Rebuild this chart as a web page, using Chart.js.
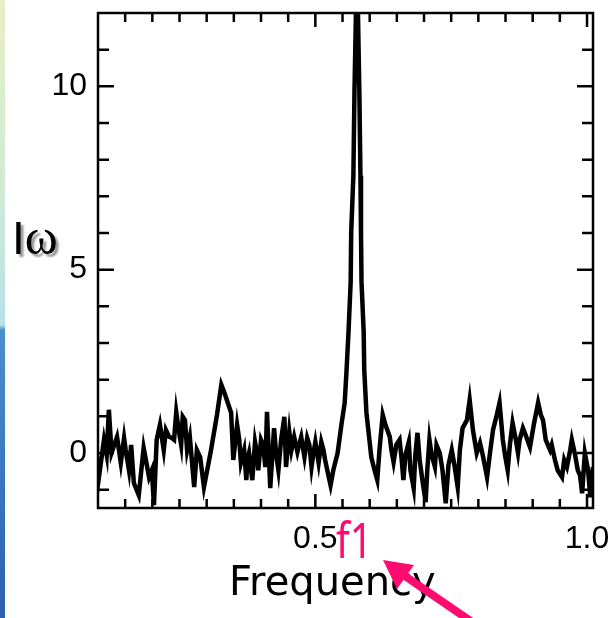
<!DOCTYPE html>
<html>
<head>
<meta charset="utf-8">
<script src="https://cdn.jsdelivr.net/npm/chart.js@4/dist/chart.umd.min.js"></script>
<style>
  html, body { margin: 0; padding: 0; background: #fff; }
  #wrap { position: relative; width: 612px; height: 618px; overflow: hidden; }
  #strip { position: absolute; left: 0; top: 0; width: 5px; height: 618px;
    background: linear-gradient(to bottom, #e6f0c4 0px, #cfe9d6 200px, #b5e2e6 325px, #4a8fcb 330px, #3a78bf 470px, #2f5fab 618px); }
  #c { position: absolute; left: 0; top: 0; }
  .lbl { position: absolute; white-space: nowrap; line-height: 1; }
  #ylab { left: 12px; top: 212px; text-shadow: 3px 3px 2px #9a9a9a; color: #000; }
  #ylab .i { font-family: "Liberation Sans", Arial, sans-serif; font-size: 46px; }
  #ylab .w { font-family: "Liberation Serif", "Times New Roman", serif; font-size: 50px; }
  #xlab { left: 229px; top: 561px; font-family: "DejaVu Sans", sans-serif; font-size: 40px; color: #000; }
  #f1 { left: 336px; top: 514px; font-family: "Noto Sans", sans-serif; font-size: 50px; color: #ff0a6e;
    transform: scaleX(0.8); transform-origin: left top; }
  #arrow { position: absolute; left: 0; top: 0; }
</style>
</head>
<body>
<div id="wrap">
  <div id="strip"></div>
  <canvas id="c" width="612" height="618"></canvas>
  <div class="lbl" id="ylab"><span class="i">I</span><span class="w">ω</span></div>
  <div class="lbl" id="xlab">Frequency</div>
  <div class="lbl" id="f1">f1</div>
  <svg id="arrow" width="612" height="618">
    <line x1="472" y1="622" x2="402" y2="574" stroke="#ff0a6e" stroke-width="8"/>
    <polygon points="383,560 414,565 397,589" fill="#ff0a6e"/>
  </svg>
</div>
<script>
// Frequency (x) and intensity Iω (y)
const freq = [
  0.098, 0.101, 0.111, 0.116, 0.120, 0.125, 0.135, 0.142, 0.148, 0.151,
  0.157, 0.161, 0.166, 0.175, 0.184, 0.194, 0.199, 0.203, 0.208, 0.214,
  0.221, 0.225, 0.231, 0.236, 0.240, 0.244, 0.249, 0.253, 0.256, 0.260,
  0.264, 0.269, 0.277, 0.282, 0.288, 0.295, 0.308, 0.319, 0.327, 0.332,
  0.345, 0.349, 0.352, 0.356, 0.360, 0.363, 0.369, 0.373, 0.375, 0.378,
  0.384, 0.389, 0.393, 0.395, 0.400, 0.404, 0.408, 0.411, 0.417, 0.424,
  0.428, 0.432, 0.437, 0.443, 0.446, 0.452, 0.456, 0.461, 0.467, 0.470,
  0.474, 0.480, 0.485, 0.489, 0.493, 0.496, 0.500, 0.506, 0.511, 0.515,
  0.518, 0.522, 0.528, 0.533, 0.541, 0.548, 0.554, 0.557, 0.561, 0.565,
  0.566, 0.570, 0.572, 0.5766, 0.581, 0.583, 0.584, 0.585, 0.589, 0.590,
  0.594, 0.603, 0.609, 0.614, 0.618, 0.624, 0.629, 0.637, 0.640, 0.644,
  0.649, 0.655, 0.659, 0.662, 0.666, 0.672, 0.675, 0.681, 0.684, 0.688,
  0.692, 0.697, 0.703, 0.706, 0.710, 0.714, 0.720, 0.723, 0.729, 0.734,
  0.740, 0.745, 0.751, 0.756, 0.762, 0.766, 0.771, 0.779, 0.784, 0.790,
  0.797, 0.803, 0.808, 0.816, 0.821, 0.827, 0.834, 0.839, 0.845, 0.849,
  0.854, 0.858, 0.863, 0.869, 0.873, 0.876, 0.882, 0.887, 0.895, 0.902,
  0.910, 0.915, 0.919, 0.924, 0.932, 0.935, 0.941, 0.946, 0.954, 0.958,
  0.963, 0.969, 0.972, 0.978, 0.983, 0.987, 0.991, 0.996, 1.002, 1.006,
  1.011
];
const intensity = [
  -0.11, -0.74, 0.36, -0.05, 1.18, 0.00, 0.44, -0.27, 0.41, 0.08,
  -0.47, 0.22, -0.82, -1.15, 0.14, -0.66, -0.47, -1.42, 0.36, 0.77,
  0.08, 0.63, 0.44, 0.41, 0.36, 1.12, 0.58, 0.22, 0.99, 0.90,
  0.08, 0.44, -0.93, 0.08, -0.11, -0.93, 0.08, 1.04, 1.86, 1.67,
  1.10, -0.19, 0.22, 0.77, 0.36, -0.27, 0.08, -0.74, -0.19, 0.00,
  -0.74, 0.30, -0.05, -0.47, 0.36, 0.22, -0.38, 1.12, -0.96, 0.68,
  -0.05, -0.47, 0.36, 0.99, -0.38, 0.58, 0.08, 0.44, 0.03, 0.22,
  0.44, -0.11, 0.41, 0.22, -0.38, -0.05, 0.30, -0.27, 0.30, 0.08,
  -0.19, -0.47, -0.88, -0.47, 0.00, 0.77, 1.37, 2.14, 3.29, 4.66,
  6.03, 7.56, 9.86, 13.5, 9.86, 7.56, 6.03, 4.66, 3.29, 2.27,
  1.10, -0.11, -0.47, -0.74, 0.08, 1.04, 0.77, 0.44, 0.08, -0.25,
  0.22, 0.36, -0.19, -0.74, -0.05, 0.30, -0.47, -0.96, -0.05, 0.55,
  -0.19, -0.74, -1.34, -0.47, 0.36, -0.05, -0.38, 0.22, 0.00, -0.47,
  -1.37, -0.33, 0.08, -0.33, -0.93, 0.08, 0.68, 0.90, 1.45, 0.63,
  0.00, 0.27, -0.05, -0.66, -0.05, 0.63, 1.04, 1.37, 0.36, -0.05,
  -0.47, 0.22, 0.82, 0.36, 0.00, 0.36, 0.68, 0.49, 0.16, 0.77,
  1.37, 1.04, 0.90, 0.36, 0.08, 0.22, -0.19, -0.47, -0.66, -0.19,
  -0.38, 0.08, 0.36, -0.05, -0.47, -0.60, -1.10, 0.00, -0.47, -1.21,
  -0.38
];
const xTickLabels = { "0.5": "0.5", "1.0": "1.0" };
const yTickLabels = [0, 5, 10];

const X_MIN = 0.1, X_MAX = 1.011, Y_MIN = -1.5, Y_MAX = 12;

const points = freq.map((f, i) => ({ x: f, y: intensity[i] }));

const frameTicks = {
  id: 'frameTicks',
  afterDatasetsDraw(chart) {
    const { ctx, chartArea: a, scales } = chart;
    ctx.save();
    ctx.strokeStyle = '#000';
    ctx.lineWidth = 2.5;
    ctx.strokeRect(a.left, a.top, a.right - a.left, a.bottom - a.top);
    scales.x.ticks.forEach(t => {
      const v = t.value;
      const px = scales.x.getPixelForValue(v);
      if (px < a.left + 2 || px > a.right - 2) return;
      const major = Math.abs(v - 0.5) < 1e-6 || Math.abs(v - 1) < 1e-6;
      const L = major ? 14 : 9;
      ctx.beginPath();
      ctx.moveTo(px, a.bottom); ctx.lineTo(px, a.bottom - L);
      ctx.moveTo(px, a.top); ctx.lineTo(px, a.top + L);
      ctx.stroke();
    });
    scales.y.ticks.forEach(t => {
      const v = t.value;
      const py = scales.y.getPixelForValue(v);
      if (py < a.top + 2 || py > a.bottom - 2) return;
      const major = yTickLabels.some(m => Math.abs(m - v) < 1e-6);
      const L = major ? 16 : 11;
      ctx.beginPath();
      ctx.moveTo(a.left, py); ctx.lineTo(a.left + L, py);
      ctx.moveTo(a.right, py); ctx.lineTo(a.right - L, py);
      ctx.stroke();
    });
    ctx.restore();
  }
};

function zeroPad(s) { s.paddingLeft = 0; s.paddingRight = 0; s.paddingTop = 0; s.paddingBottom = 0; }

new Chart(document.getElementById('c'), {
  type: 'line',
  data: {
    datasets: [{
      data: points,
      borderColor: '#000',
      borderWidth: 4.5,
      pointRadius: 0,
      tension: 0,
      fill: false,
      borderJoinStyle: 'miter'
    }]
  },
  options: {
    responsive: false,
    animation: false,
    layout: { padding: { left: 0, top: 13, right: 19, bottom: 0 } },
    plugins: { legend: { display: false }, tooltip: { enabled: false } },
    scales: {
      x: {
        type: 'linear',
        min: X_MIN, max: X_MAX,
        grid: { display: false, drawTicks: false },
        border: { display: false },
        ticks: {
          stepSize: 0.05,
          includeBounds: false,
          autoSkip: false,
          maxRotation: 0,
          padding: 12,
          color: '#000',
          font: { family: 'Liberation Sans, Arial, sans-serif', size: 32 },
          callback: (v) => {
            if (Math.abs(v - 0.5) < 1e-6) return xTickLabels["0.5"];
            if (Math.abs(v - 1) < 1e-6) return xTickLabels["1.0"];
            return '';
          }
        },
        afterFit: (s) => { s.height = 110; zeroPad(s); }
      },
      y: {
        type: 'linear',
        min: Y_MIN, max: Y_MAX,
        grid: { display: false, drawTicks: false },
        border: { display: false },
        ticks: {
          stepSize: 1,
          includeBounds: false,
          autoSkip: false,
          padding: 11,
          color: '#000',
          font: { family: 'Liberation Sans, Arial, sans-serif', size: 32 },
          callback: (v) => yTickLabels.some(m => Math.abs(m - v) < 1e-6) ? String(Math.round(v)) : ''
        },
        afterFit: (s) => { s.width = 98; zeroPad(s); }
      }
    }
  },
  plugins: [frameTicks]
});
</script>
</body>
</html>
